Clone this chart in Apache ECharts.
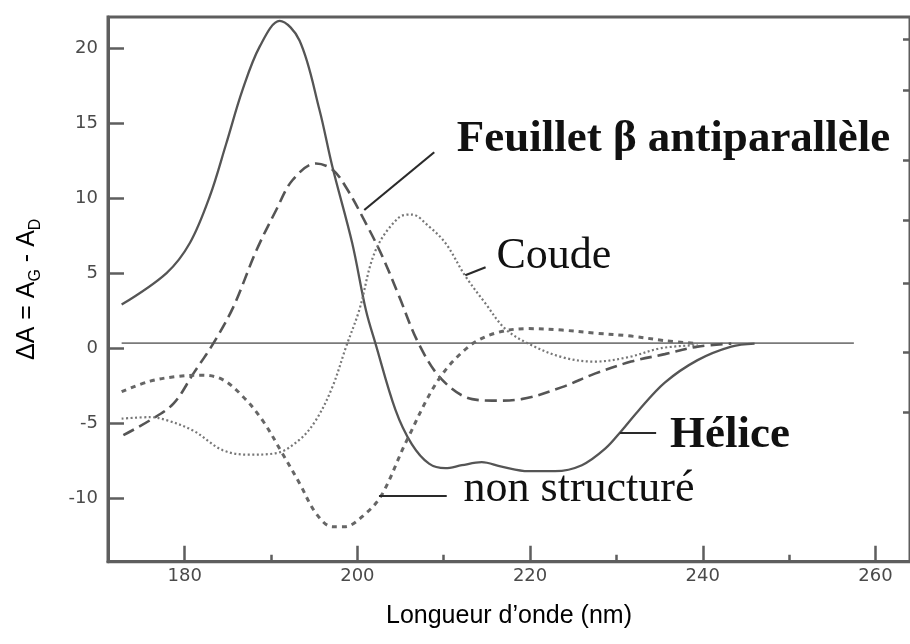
<!DOCTYPE html>
<html>
<head>
<meta charset="utf-8">
<script src="https://cdn.jsdelivr.net/npm/echarts@6/dist/echarts.min.js"></script>
<style>
  html, body { margin: 0; padding: 0; background: #fff; }
  #chart { width: 910px; height: 644px; }
</style>
</head>
<body>
<div id="chart"></div>
<script>
// Circular dichroism spectra of the main protein secondary structures
// Wavelength in nm, ΔA in arbitrary units.

const heliceNm = [172.7, 177.9, 180.6, 182.9, 184.8, 186.7, 188.7, 191.0, 193.3, 195.6, 197.1, 199.4, 201.0, 202.1, 204.4, 206.3, 208.3, 210.2, 212.1, 214.4, 216.7, 219.8, 222.9, 226.0, 228.7, 230.6, 232.5, 235.6, 239.4, 243.3, 246.0];
const heliceDA = [2.9, 5.0, 7.0, 10.1, 13.6, 17.2, 20.1, 21.8, 20.5, 15.9, 12.1, 7.0, 2.5, 0.3, -4.1, -6.4, -7.7, -8.0, -7.8, -7.6, -7.9, -8.2, -8.2, -7.8, -6.7, -5.5, -4.2, -2.3, -0.8, 0.1, 0.3];

const feuilletNm = [172.9, 176.0, 178.7, 181.0, 183.3, 185.6, 188.3, 190.6, 192.5, 195.2, 197.1, 198.7, 201.0, 202.9, 204.8, 207.1, 209.8, 213.3, 216.0, 219.0, 223.7, 227.5, 231.7, 235.6, 239.4, 243.3];
const feuilletDA = [-5.8, -4.8, -3.7, -1.7, 0.3, 2.7, 6.5, 9.2, 11.2, 12.3, 11.9, 10.7, 8.3, 6.1, 3.5, 0.3, -2.1, -3.4, -3.5, -3.4, -2.6, -1.7, -0.9, -0.4, 0.1, 0.3];

const coudeNm = [172.7, 176.0, 177.9, 181.0, 184.4, 187.5, 190.6, 193.3, 195.2, 197.1, 198.7, 200.2, 202.1, 204.8, 206.3, 208.3, 210.2, 212.5, 214.8, 217.1, 219.8, 223.7, 227.5, 231.4, 235.2, 239.4];
const coudeDA = [-4.7, -4.6, -4.8, -5.5, -6.8, -7.1, -7.0, -6.1, -4.8, -2.6, 0.1, 2.5, 6.5, 8.7, 8.9, 8.1, 7.0, 4.8, 3.0, 1.3, 0.3, -0.6, -0.9, -0.6, 0.0, 0.2];

const nonStructNm = [172.7, 176.0, 179.0, 182.1, 184.4, 186.7, 189.0, 191.3, 193.3, 195.2, 197.1, 198.5, 201.0, 202.9, 205.6, 209.4, 212.9, 216.0, 219.8, 223.7, 227.5, 231.7, 235.6, 239.4];
const nonStructDA = [-2.9, -2.2, -1.9, -1.8, -2.1, -3.2, -4.8, -7.0, -9.0, -11.0, -11.9, -11.9, -11.0, -9.7, -6.3, -2.1, 0.1, 1.0, 1.3, 1.2, 1.0, 0.8, 0.5, 0.3];

const baselineNm = [172.7, 257.5];
const baselineDA = [0.33, 0.33];

// Axis ticks and labels
const xMajorTicks = [180, 200, 220, 240, 260];
const xMinorTicks = [190, 210, 230, 250];
const yTicks = [-10, -5, 0, 5, 10, 15, 20];
const yRightTicks = [-4.3, -0.3, 4.3, 8.5, 12.5, 17.2, 20.6];

// Curve labels: [text, anchor x, anchor y, bold]
const curveLabels = [
  ['Feuillet β antiparallèle', 211.5, 13.9, true],
  ['Coude', 216.1, 6.1, false],
  ['Hélice', 236.2, -5.8, true],
  ['non structuré', 212.3, -9.4, false]
];
// Leader lines: [x1, y1, x2, y2]
const leaderLines = [
  [200.8, 9.2, 208.9, 13.05],
  [212.5, 4.86, 214.85, 5.39],
  [230.4, -5.66, 234.6, -5.66],
  [202.5, -9.85, 210.35, -9.85]
];

const zip = (xs, ys) => xs.map((x, i) => [x, ys[i]]);

const chart = echarts.init(document.getElementById('chart'), null, { renderer: 'canvas' });

const tickFont = { fontFamily: 'DejaVu Sans', fontSize: 18, color: '#4a4a4a' };
const X_MIN = 171.12, X_MAX = 264, Y_MIN = -14.23, Y_MAX = 22.06;
const axisGrey = '#5e5e5e';

chart.setOption({
  animation: false,
  backgroundColor: '#fff',
  grid: {
    left: 108, top: 17, right: -1.4, bottom: 82.3,
    show: true, borderColor: axisGrey, borderWidth: 3, backgroundColor: 'transparent'
  },
  xAxis: [
    {
      type: 'value', min: X_MIN, max: X_MAX, position: 'bottom',
      name: 'Longueur d’onde (nm)', nameLocation: 'middle', nameGap: 42,
      nameTextStyle: { fontFamily: 'Liberation Sans', fontSize: 25, color: '#000' },
      axisLine: { show: true, onZero: false, lineStyle: { color: axisGrey, width: 3 } },
      axisTick: { show: true, inside: true, length: 16, customValues: xMajorTicks, lineStyle: { color: axisGrey, width: 2.5 } },
      axisLabel: { show: true, customValues: xMajorTicks, margin: 6, ...tickFont },
      splitLine: { show: false }
    },
    {
      type: 'value', min: X_MIN, max: X_MAX, position: 'bottom',
      axisLine: { show: false, onZero: false },
      axisTick: { show: true, inside: true, length: 7, customValues: xMinorTicks, lineStyle: { color: axisGrey, width: 2.5 } },
      axisLabel: { show: false },
      splitLine: { show: false }
    }
  ],
  yAxis: [
    {
      type: 'value', min: Y_MIN, max: Y_MAX, position: 'left',
      name: '{m|ΔA = A}{s|G}{m| - A}{s|D}', nameLocation: 'middle', nameGap: 64,
      nameTextStyle: {
        rich: {
          m: { fontFamily: 'Liberation Sans', fontSize: 25, color: '#000', lineHeight: 34, verticalAlign: 'middle' },
          s: { fontFamily: 'Liberation Sans', fontSize: 16, color: '#000', lineHeight: 22, verticalAlign: 'bottom' }
        }
      },
      axisLine: { show: true, onZero: false, lineStyle: { color: axisGrey, width: 3 } },
      axisTick: { show: true, inside: true, length: 16, customValues: yTicks, lineStyle: { color: axisGrey, width: 2.5 } },
      axisLabel: { show: true, customValues: yTicks, margin: 10, ...tickFont },
      splitLine: { show: false }
    },
    {
      type: 'value', min: Y_MIN, max: Y_MAX, position: 'right',
      axisLine: { show: false, onZero: false },
      axisTick: { show: true, inside: true, length: 7, customValues: yRightTicks, lineStyle: { color: axisGrey, width: 2.5 } },
      axisLabel: { show: false },
      splitLine: { show: false }
    }
  ],
  series: [
    {
      name: 'ligne de base', type: 'line', data: zip(baselineNm, baselineDA),
      showSymbol: false, silent: true,
      lineStyle: { color: '#7a7a7a', width: 1.6 },
      markLine: {
        silent: true, symbol: ['none', 'none'], animation: false,
        label: { show: false },
        lineStyle: { color: '#2a2a2a', width: 2.2, type: 'solid' },
        data: leaderLines.map(l => [{ coord: [l[0], l[1]] }, { coord: [l[2], l[3]] }])
      },
      markPoint: {
        silent: true, symbol: 'circle', symbolSize: 0, animation: false,
        data: curveLabels.map(c => ({
          coord: [c[1], c[2]],
          label: {
            show: true, formatter: c[0], position: [0, 0], align: 'left', verticalAlign: 'middle',
            fontFamily: 'Liberation Serif', fontSize: c[3] ? 45 : 44, fontWeight: c[3] ? 'bold' : 'normal', color: '#111'
          }
        }))
      }
    },
    {
      name: 'Hélice', type: 'line', data: zip(heliceNm, heliceDA),
      showSymbol: false, smooth: 0.35, silent: true,
      lineStyle: { color: '#555', width: 2.3, type: 'solid' }
    },
    {
      name: 'Feuillet β antiparallèle', type: 'line', data: zip(feuilletNm, feuilletDA),
      showSymbol: false, smooth: 0.35, silent: true,
      lineStyle: { color: '#555', width: 2.6, type: [12, 6] }
    },
    {
      name: 'Coude', type: 'line', data: zip(coudeNm, coudeDA),
      showSymbol: false, smooth: 0.35, silent: true,
      lineStyle: { color: '#777', width: 2.2, type: [2, 2.5] }
    },
    {
      name: 'non structuré', type: 'line', data: zip(nonStructNm, nonStructDA),
      showSymbol: false, smooth: 0.35, silent: true,
      lineStyle: { color: '#666', width: 3, type: [5, 5] }
    }
  ]
});
</script>
</body>
</html>
